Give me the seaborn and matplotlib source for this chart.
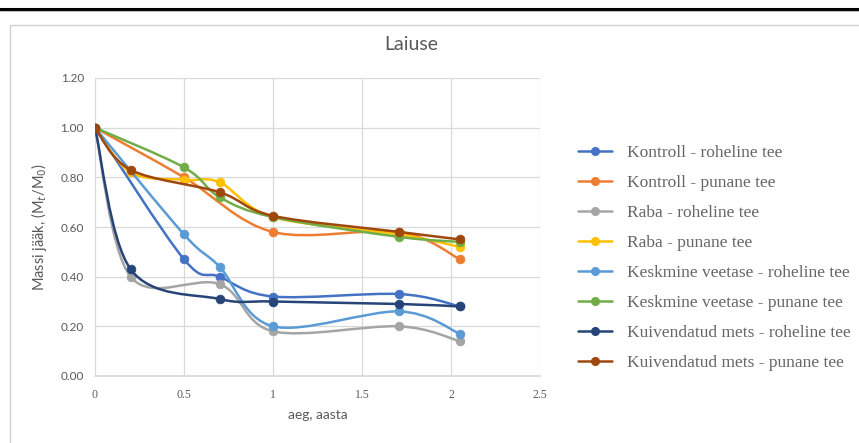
import numpy as np
import pandas as pd
import matplotlib
matplotlib.use("Agg")
import matplotlib.pyplot as plt
from matplotlib.path import Path
from matplotlib.patches import PathPatch, Rectangle
from matplotlib.lines import Line2D
import seaborn as sns

# --- data -------------------------------------------------------------
series_names = [
    "Kontroll - roheline tee",
    "Kontroll - punane tee",
    "Raba - roheline tee",
    "Raba - punane tee",
    "Keskmine veetase - roheline tee",
    "Keskmine veetase - punane tee",
    "Kuivendatud mets - roheline tee",
    "Kuivendatud mets - punane tee",
]
series_colors = ["#4472C4", "#ED7D31", "#A5A5A5", "#FFC000",
                 "#5B9BD5", "#70AD47", "#264478", "#9E480E"]

kontroll_roh_x = [0, 0.5, 0.7, 1.0, 1.71, 2.05]
kontroll_roh_y = [1.00, 0.47, 0.40, 0.32, 0.33, 0.28]
kontroll_pun_x = [0, 0.5, 1.0, 1.71, 2.05]
kontroll_pun_y = [1.00, 0.80, 0.58, 0.58, 0.47]
raba_roh_x = [0, 0.2, 0.7, 1.0, 1.71, 2.05]
raba_roh_y = [1.00, 0.40, 0.37, 0.18, 0.20, 0.14]
raba_pun_x = [0, 0.2, 0.5, 0.7, 1.0, 1.71, 2.05]
raba_pun_y = [1.00, 0.82, 0.79, 0.78, 0.64, 0.57, 0.52]
kesk_roh_x = [0, 0.5, 0.7, 1.0, 1.71, 2.05]
kesk_roh_y = [1.00, 0.57, 0.44, 0.20, 0.26, 0.17]
kesk_pun_x = [0, 0.5, 0.7, 1.0, 1.71, 2.05]
kesk_pun_y = [1.00, 0.84, 0.72, 0.64, 0.56, 0.54]
kuiv_roh_x = [0, 0.2, 0.7, 1.0, 1.71, 2.05]
kuiv_roh_y = [1.00, 0.43, 0.31, 0.30, 0.29, 0.28]
kuiv_pun_x = [0, 0.2, 0.7, 1.0, 1.71, 2.05]
kuiv_pun_y = [1.00, 0.83, 0.74, 0.645, 0.58, 0.55]

xs = [kontroll_roh_x, kontroll_pun_x, raba_roh_x, raba_pun_x,
      kesk_roh_x, kesk_pun_x, kuiv_roh_x, kuiv_pun_x]
ys = [kontroll_roh_y, kontroll_pun_y, raba_roh_y, raba_pun_y,
      kesk_roh_y, kesk_pun_y, kuiv_roh_y, kuiv_pun_y]

x_ticks = [0, 0.5, 1, 1.5, 2, 2.5]
x_tick_labels = ["0", "0.5", "1", "1.5", "2", "2.5"]
y_ticks = [0.0, 0.2, 0.4, 0.6, 0.8, 1.0, 1.2]
y_tick_labels = ["0.00", "0.20", "0.40", "0.60", "0.80", "1.00", "1.20"]

df = pd.concat(
    [pd.DataFrame({"aeg": x, "mass": y, "seeria": n})
     for n, x, y in zip(series_names, xs, ys)],
    ignore_index=True,
)

# --- figure -----------------------------------------------------------
sns.set_theme(style="white")
plt.rcParams["font.family"] = ["Lato", "DejaVu Sans"]

W, H = 859, 443
fig = plt.figure(figsize=(W / 100, H / 100), dpi=100)
fig.patch.set_facecolor("white")

# page rule and chart frame
fig.add_artist(Line2D([0, 1], [1 - 8.5 / H, 1 - 8.5 / H], color="black",
                      lw=2.2, transform=fig.transFigure))
fig.add_artist(Line2D([0, 1], [1 - 11 / H, 1 - 11 / H], color="#bbbbbb",
                      lw=0.8, transform=fig.transFigure))
fig.add_artist(Rectangle((10 / W, -0.05), 1.2, 1 - 25 / H + 0.05,
                         fill=False, ec="#d0d0d0", lw=1.0,
                         transform=fig.transFigure))

ax = fig.add_axes([95 / W, 1 - 376 / H, 445 / W, 298 / H])
ax.set_xlim(0, 2.5)
ax.set_ylim(0, 1.2)


def smooth_path(x, y):
    """Cubic Bezier path through the points (Catmull-Rom style control points)."""
    p = np.column_stack([x, y]).astype(float)
    verts = [p[0]]
    codes = [Path.MOVETO]
    n = len(p)
    for i in range(n - 1):
        p0 = p[i - 1] if i > 0 else p[i]
        p1 = p[i]
        p2 = p[i + 1]
        p3 = p[i + 2] if i + 2 < n else p[i + 1]
        c1 = p1 + (p2 - p0) / 6.0
        c2 = p2 - (p3 - p1) / 6.0
        verts += [c1, c2, p2]
        codes += [Path.CURVE4] * 3
    return Path(verts, codes)


for k, (name, color) in enumerate(zip(series_names, series_colors)):
    sub = df[df["seeria"] == name]
    patch = PathPatch(smooth_path(sub["aeg"].values, sub["mass"].values),
                      fill=False, ec=color, lw=1.8, zorder=3 + 2 * k,
                      capstyle="round", joinstyle="round")
    ax.add_patch(patch)
    sns.scatterplot(data=sub, x="aeg", y="mass", color=color, s=40,
                    edgecolor=color, linewidth=0.5, ax=ax,
                    zorder=4 + 2 * k, legend=False)

ax.set_xticks(x_ticks)
ax.set_xticklabels(x_tick_labels)
ax.set_yticks(y_ticks)
ax.set_yticklabels(y_tick_labels)
ax.grid(True, color="#d9d9d9", lw=0.9)
ax.set_axisbelow(True)
for side in ["top", "right", "left"]:
    ax.spines[side].set_visible(False)
ax.spines["bottom"].set_color("#d9d9d9")
ax.tick_params(axis="both", length=0, colors="#595959", labelsize=8.5)
ax.tick_params(axis="x", pad=9)
ax.tick_params(axis="y", pad=8)
for lbl in ax.get_xticklabels():
    lbl.set_fontfamily(["Liberation Serif"])

ax.set_xlabel("aeg, aasta", color="#595959", fontsize=10, labelpad=6)
ax.set_ylabel(r"Massi jääk, (M$_t$/M$_0$)", color="#595959",
              fontsize=10.5, labelpad=8)
fig.text(411 / W, 1 - 45 / H, "Laiuse", ha="center", va="center",
         fontsize=14, color="#595959")

# legend
handles = [Line2D([0], [0], color=c, lw=1.8, marker="o", markersize=5.5)
           for c in series_colors]
leg = fig.legend(handles, series_names, loc="upper left",
                 bbox_to_anchor=(562 / W, 1 - 129 / H), frameon=False,
                 prop={"family": "Liberation Serif", "size": 12.5},
                 labelcolor="#666666", handlelength=2.0, handletextpad=0.85,
                 labelspacing=0.80)

fig.savefig("out.png", dpi=100, facecolor="white")
